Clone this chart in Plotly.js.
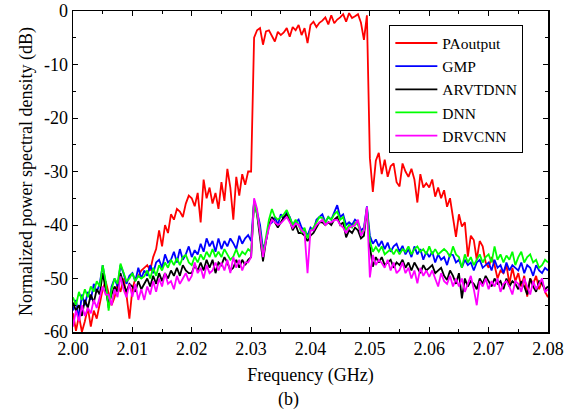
<!DOCTYPE html>
<html>
<head>
<meta charset="utf-8">
<script src="https://cdn.plot.ly/plotly-3.0.1.min.js"></script>
<style>html,body{margin:0;padding:0;background:#fff;}#chart{width:579px;height:412px;}</style>
</head>
<body>
<div id="chart"></div>
<script>
// Frequency grid (GHz): 2.000 .. 2.080, step 0.0005
var freqStart = 2.000, freqStep = 0.0005, nPoints = 161;

var seriesNames = ['PAoutput', 'GMP', 'ARVTDNN', 'DNN', 'DRVCNN'];

var paOutput = [
 -56.5,-59.8,-57,-60,-58,-55.5,-59,-56,-57.5,-54.5,
 -52,-50.5,-53,-55,-53.5,-51,-52.5,-50,-53,-57.5,
 -52,-50,-49.5,-48.5,-48,-47.5,-48.5,-46,-44.5,-41,
 -44,-40,-41.5,-38,-39,-37,-37.5,-38.5,-36,-34.5,
 -35,-36.5,-34,-39.5,-31.5,-35,-33,-36,-34,-37,
 -32,-35.5,-29.5,-33,-39,-31,-34.5,-30.5,-32.5,-30,
 -30,-5,-3.6,-3.2,-6.3,-3.8,-3.6,-4.6,-5.7,-3.9,
 -4.5,-4,-3.2,-4.8,-3,-3.6,-2.6,-4.5,-3.2,-6,
 -2.6,-2,-3,-2.2,-1.8,-1.2,-2.5,-0.8,-2.3,-1.6,
 -1.2,-0.6,-2,-0.4,-1.3,-1,-0.6,-2.2,-5.4,-0.8,
 -27.5,-33.8,-28,-26.5,-30.5,-27.8,-31,-29,-28.5,-32,
 -32.8,-28.5,-30,-31,-29.5,-31.5,-35.8,-30.5,-33,-32.2,
 -33,-31.5,-34.7,-33,-35,-33.5,-36.6,-35,-38.5,-42.2,
 -38,-40.3,-39.5,-45.9,-42,-42.8,-46.5,-43,-44,-47,
 -48,-46,-47.5,-50,-48.5,-49,-47.5,-51,-48,-50.5,
 -49,-51.5,-49.5,-53.4,-50,-51,-49.5,-52,-50.5,-52.5,
 -53.5
];

var gmp = [
 -56,-54,-57.5,-53,-55,-52.5,-54,-51,-52.5,-51,
 -47.5,-51,-55.5,-51.5,-50,-51.5,-47.5,-49,-51,-49.5,
 -49,-50.5,-48,-50,-48.5,-49.5,-47.5,-49,-47,-46.5,
 -48,-45.5,-47,-46.5,-45,-47,-44.5,-46.5,-45.5,-44,
 -46,-44.7,-45.5,-43.5,-45,-42.5,-44,-43,-45,-42.5,
 -44.5,-43,-44,-42.5,-43.4,-44.5,-42,-43.5,-42.5,-41.9,
 -43,-35.5,-37.5,-40,-44.5,-43,-40,-39.5,-38.5,-40,
 -38,-39,-37.5,-38.5,-40,-39.5,-39,-40.5,-41,-42,
 -40.5,-41,-39,-38.5,-38,-39.5,-38.5,-39,-37.5,-36.3,
 -38.5,-38,-40,-39.5,-40,-39,-39.5,-41,-40.5,-36.5,
 -42,-43.5,-42.7,-44,-43,-44.5,-43.3,-45,-44,-43.5,
 -45,-43.9,-45.5,-44.5,-46,-44,-45.5,-44.5,-46.5,-45,
 -46,-45,-47,-45.5,-46.5,-46,-47.5,-45.5,-45.6,-47,
 -46.5,-48,-46.5,-47.5,-47,-48.5,-47,-46.5,-48,-47.5,
 -47,-48.5,-46.5,-48,-47.5,-49,-47,-48.5,-47.5,-48,
 -48.5,-47,-49,-47.5,-48,-49.5,-47.5,-48.5,-49,-48,
 -48.5
];

var arvtdnn = [
 -54.5,-56,-55,-57,-54,-55.5,-53,-54.5,-52,-53,
 -49,-52,-55,-53,-51.5,-52.5,-49,-51,-52.5,-51,
 -51.5,-52.5,-50.5,-52,-51,-50,-51.5,-49.5,-51,-49,
 -50.5,-49,-50,-48.5,-49.5,-48,-49.5,-47.5,-48.5,-49,
 -49,-47.5,-48.5,-47,-48.5,-46.5,-48,-46.5,-49,-47,
 -47.5,-46,-47,-48.5,-48,-46.5,-48,-46.5,-47.5,-46.5,
 -46,-35.5,-38,-42,-46.8,-43,-40,-38.5,-39.5,-40.5,
 -39.5,-38.5,-38,-39,-41,-40,-41.5,-41.5,-42,-43,
 -42,-41.5,-40.5,-39.5,-39.5,-40,-39.5,-40,-39,-38.5,
 -40,-39.5,-42.3,-41,-41.5,-40.5,-41,-42.5,-42,-37,
 -44,-47.8,-46,-47,-46,-47.5,-47,-46.5,-48,-47,
 -47.5,-46.5,-48,-47,-48.5,-47,-48,-49,-47.5,-48.5,
 -48,-47.5,-49,-48.5,-48,-49.5,-50.3,-48.5,-49.5,-51,
 -49,-53.7,-50,-51.5,-50.5,-51,-52,-50,-51,-49.5,
 -50.5,-51.5,-50,-51,-50.5,-52,-50,-51.5,-50.5,-51,
 -52,-50.5,-51.5,-53,-50,-51.5,-52.5,-50.5,-51,-52,
 -51.5
];

var dnn = [
 -53.5,-55,-52.5,-54,-52,-53.5,-51.5,-52.5,-50.5,-51.5,
 -47.5,-50.5,-56,-52,-50,-51,-47.2,-49,-50.5,-50,
 -49,-50.5,-49.5,-50,-49.6,-48.5,-50,-48,-49.5,-47.5,
 -48.5,-47,-48,-46.5,-47.5,-46.2,-47.5,-46,-45.6,-47,
 -47.5,-45.9,-47,-45.5,-46.5,-45,-46,-44.5,-46,-45,
 -46,-44.5,-45.5,-46.5,-45.9,-44.5,-46,-45,-45.5,-44.5,
 -45,-35.8,-38,-41,-45.5,-42,-39,-37,-38.5,-39,
 -38.5,-38,-37.2,-38.5,-40,-39,-40,-41.5,-40.5,-42.5,
 -41,-40.5,-39.5,-38.5,-38.7,-39.5,-38.5,-39,-38,-37.5,
 -39,-38.5,-41,-40,-40.5,-39.5,-40,-41.5,-41,-36.8,
 -43,-45,-44.1,-45,-44,-45.5,-45,-44.5,-45.5,-44.5,
 -45.5,-44.5,-45,-44,-45.5,-44.5,-44,-45,-44.5,-45.5,
 -44,-45.5,-44.5,-45.5,-45,-44.5,-45,-46,-44,-45.5,
 -46,-48,-45.5,-47,-46,-47.5,-46.5,-45.5,-47,-46,
 -45.5,-47,-44,-46.5,-45.5,-47,-45.7,-46.5,-45,-47.5,
 -46,-45,-47,-46,-45.5,-47,-46.5,-48,-47.5,-46.5,
 -47
];

var drvcnn = [
 -59,-56,-58,-55,-57,-55.5,-56.5,-54,-55.5,-53.5,
 -51.5,-53,-53,-55,-52,-53.5,-49.6,-52,-53.5,-51,
 -53.4,-51,-54,-52,-54,-51.5,-53,-50.5,-52.5,-50,
 -51.5,-49,-51,-50.5,-52,-49.5,-51,-50,-49,-50.5,
 -49.5,-47,-49,-48,-50,-47.5,-49,-48.5,-47,-48.5,
 -47,-48.5,-46.5,-49,-46,-48,-46.5,-48.5,-47,-47,
 -46,-35,-37,-41.5,-46,-43,-40.5,-39,-39.5,-40,
 -39.7,-39,-38.5,-39.5,-40.5,-39.7,-40,-41,-41.5,-49,
 -41,-41,-40,-39.5,-39,-40,-39.5,-39.5,-39.1,-39,
 -40,-40.5,-41.5,-40.5,-40.3,-40,-39,-42,-41,-36.6,
 -49.8,-45.6,-47.5,-46.5,-47.1,-48,-46.5,-48.5,-47,-49,
 -48.4,-47,-49,-48,-50,-48.5,-50.9,-48,-49.5,-48.5,
 -49.7,-48.5,-50,-51.5,-49,-50.5,-51,-49.5,-51.5,-50,
 -51.5,-50,-52.5,-51,-49.5,-52,-55,-50.5,-51.5,-50,
 -52,-50.5,-51.5,-50,-52.5,-51,-50.5,-51.5,-53,-50.5,
 -51,-52.5,-50,-51.5,-53,-50.5,-52,-51,-50,-52.5,
 -52
];

var xTickVals = [2.00, 2.01, 2.02, 2.03, 2.04, 2.05, 2.06, 2.07, 2.08];
var xTickText = ['2.00', '2.01', '2.02', '2.03', '2.04', '2.05', '2.06', '2.07', '2.08'];
var yTickVals = [-60, -50, -40, -30, -20, -10, 0];
var yTickText = ['-60', '-50', '-40', '-30', '-20', '-10', '0'];

var freq = [];
for (var i = 0; i < nPoints; i++) freq.push(+(freqStart + i * freqStep).toFixed(4));

var allSeries = [paOutput, gmp, arvtdnn, dnn, drvcnn];
var colors = ['#ff0000', '#0000ff', '#000000', '#00ff00', '#ff00ff'];

var traces = allSeries.map(function (ys, k) {
  return {
    x: freq, y: ys, name: seriesNames[k], type: 'scatter', mode: 'lines',
    line: {color: colors[k], width: 1.8}
  };
});

var fam = 'Liberation Serif';
var fs = 18;

var layout = {
  width: 579, height: 412,
  margin: {l: 73, r: 31, t: 11, b: 80},
  paper_bgcolor: '#fff', plot_bgcolor: '#fff',
  font: {family: fam, size: fs, color: '#000'},
  showlegend: true,
  legend: {
    x: 0.666, y: 0.955, xanchor: 'left', yanchor: 'top',
    bgcolor: '#fff', bordercolor: '#000', borderwidth: 1,
    font: {family: fam, size: 15.5, color: '#000'},
    tracegroupgap: 0, itemwidth: 42
  },
  xaxis: {
    range: [2.0, 2.08], tickmode: 'array', tickvals: xTickVals, ticktext: xTickText,
    ticks: 'inside', ticklen: 5, tickwidth: 1, tickcolor: '#000',
    minor: {dtick: 0.005, tick0: 2.0, ticks: 'inside', ticklen: 3, tickcolor: '#000', showgrid: false},
    showline: true, linecolor: '#000', linewidth: 1.5, mirror: 'ticks',
    showgrid: false, zeroline: false,
    tickfont: {family: fam, size: fs, color: '#000'},
    title: {text: 'Frequency (GHz)', font: {family: fam, size: fs, color: '#000'}, standoff: 10},
    automargin: false
  },
  yaxis: {
    range: [-60, 0], tickmode: 'array', tickvals: yTickVals, ticktext: yTickText,
    ticks: 'inside', ticklen: 5, tickwidth: 1, tickcolor: '#000',
    minor: {dtick: 5, tick0: 0, ticks: 'inside', ticklen: 3, tickcolor: '#000', showgrid: false},
    showline: true, linecolor: '#000', linewidth: 1.5, mirror: 'ticks',
    showgrid: false, zeroline: false,
    tickfont: {family: fam, size: fs, color: '#000'},
    title: {text: 'Normalized power spectral density (dB)', font: {family: fam, size: fs, color: '#000'}, standoff: 6},
    automargin: false
  },
  annotations: [{
    text: '(b)', xref: 'paper', yref: 'paper', x: (288 - 73) / 475, y: -(399 - 332) / 321,
    xanchor: 'center', yanchor: 'middle', showarrow: false,
    font: {family: fam, size: fs, color: '#000'}
  }]
};

Plotly.newPlot('chart', traces, layout, {displayModeBar: false, staticPlot: true});
</script>
</body>
</html>
